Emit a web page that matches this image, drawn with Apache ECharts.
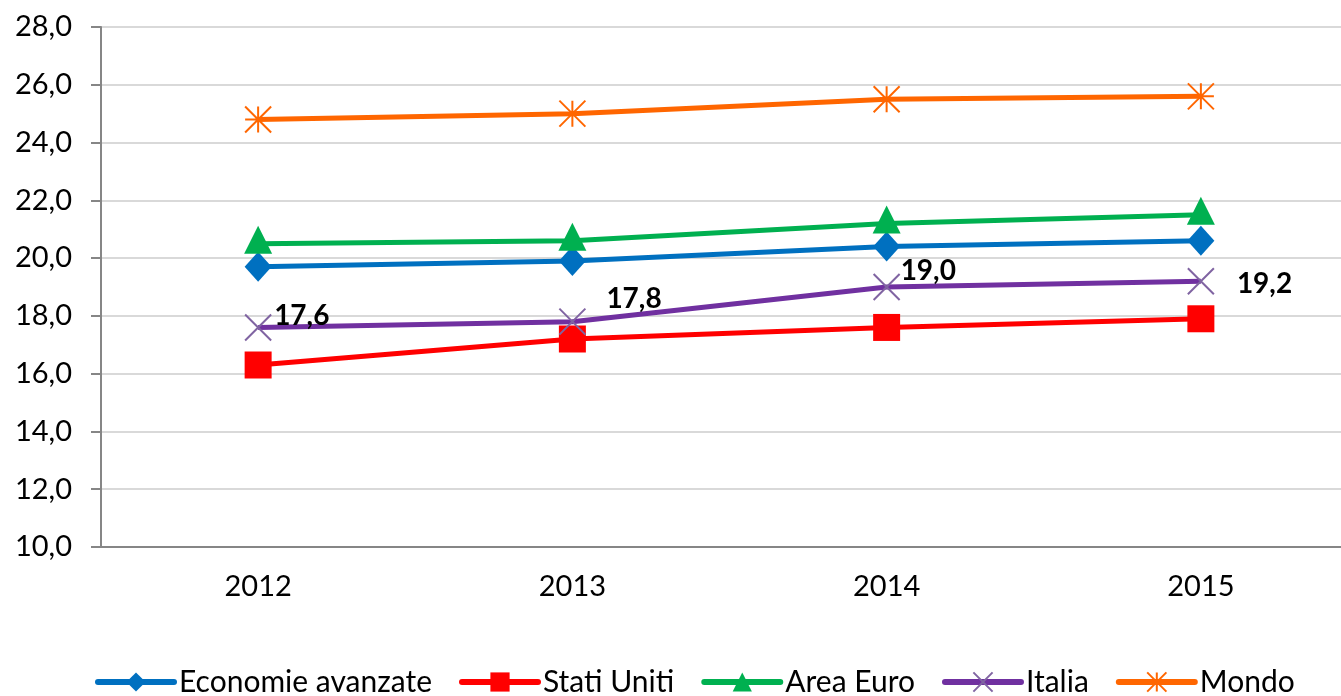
<!DOCTYPE html>
<html>
<head>
<meta charset="utf-8">
<script src="https://cdn.jsdelivr.net/npm/echarts@6/dist/echarts.min.js"></script>
<style>
  html, body { margin: 0; padding: 0; background: #fff; overflow: hidden; }
  /* plot runs past the right edge like the cropped original */
  #main { width: 1358px; height: 696px; }
</style>
</head>
<body>
<div id="main"></div>
<script>
var years = ['2012', '2013', '2014', '2015'];
var economieAvanzate = [19.7, 19.9, 20.4, 20.6];
var statiUniti = [16.3, 17.2, 17.6, 17.9];
var areaEuro = [20.5, 20.6, 21.2, 21.5];
var italia = [17.6, 17.8, 19.0, 19.2];
var mondo = [24.8, 25.0, 25.5, 25.6];
// label offsets for the Italia values
var italiaLabelOffset = [[2, -11], [20, -23], [0, -16], [22, 3]];

var font = 'Lato, "Open Sans", sans-serif';
var chart = echarts.init(document.getElementById('main'));

function fmt(v) {
  return v.toFixed(1).replace('.', ',');
}

var option = {
  animation: false,
  textStyle: { fontFamily: font },
  grid: { left: 101, right: 0, top: 27, bottom: 149 },
  legend: {
    top: 662,
    left: 90,
    itemWidth: 76,
    itemHeight: 24,
    itemGap: 27,
    lineStyle: { width: 6, cap: 'round' },
    textStyle: { fontSize: 30, color: '#000', fontFamily: font },
    data: ['Economie avanzate', 'Stati Uniti', 'Area Euro', 'Italia', 'Mondo']
  },
  xAxis: {
    type: 'category',
    data: years,
    axisLine: { lineStyle: { color: '#868686', width: 2 } },
    axisTick: { length: 10, lineStyle: { color: '#868686', width: 2 } },
    axisLabel: { fontSize: 29, color: '#000', margin: 25 }
  },
  yAxis: {
    type: 'value',
    min: 10,
    max: 28,
    interval: 2,
    axisLine: { show: true, lineStyle: { color: '#868686', width: 2 } },
    axisTick: { show: true, length: 10, lineStyle: { color: '#868686', width: 2 } },
    splitLine: { lineStyle: { color: '#d9d9d9', width: 2 } },
    axisLabel: { fontSize: 29, color: '#000', margin: 29, formatter: fmt }
  },
  series: [
    {
      name: 'Economie avanzate',
      type: 'line',
      data: economieAvanzate,
      symbol: 'diamond',
      symbolSize: [27, 30],
      lineStyle: { color: '#0070c0', width: 5 },
      itemStyle: { color: '#0070c0' }
    },
    {
      name: 'Stati Uniti',
      type: 'line',
      data: statiUniti,
      symbol: 'rect',
      symbolSize: 27,
      lineStyle: { color: '#ff0000', width: 5 },
      itemStyle: { color: '#ff0000' }
    },
    {
      name: 'Area Euro',
      type: 'line',
      data: areaEuro,
      symbol: 'triangle',
      symbolSize: [28, 28],
      symbolOffset: [0, -4],
      lineStyle: { color: '#00b050', width: 5 },
      itemStyle: { color: '#00b050' }
    },
    {
      name: 'Italia',
      type: 'line',
      data: italia.map(function (v, i) {
        return {
          value: v,
          label: { offset: italiaLabelOffset[i] }
        };
      }),
      symbol: 'path://M0,0L10,10M10,0L0,10',
      symbolSize: 26,
      lineStyle: { color: '#7030a0', width: 5 },
      itemStyle: { color: 'rgba(0,0,0,0)', borderColor: '#8064a2', borderWidth: 2 },
      label: {
        show: true,
        position: 'right',
        distance: 0,
        fontSize: 28,
        fontWeight: 'bold',
        color: '#000',
        formatter: function (p) { return fmt(p.value); }
      },
      z: 3
    },
    {
      name: 'Mondo',
      type: 'line',
      data: mondo,
      symbol: 'path://M0,0L10,10M10,0L0,10M5,0L5,10M0,5L10,5',
      symbolSize: 26,
      lineStyle: { color: '#ff6600', width: 5 },
      itemStyle: { color: 'rgba(0,0,0,0)', borderColor: '#ff6600', borderWidth: 2 }
    }
  ]
};

chart.setOption(option);
</script>
</body>
</html>
